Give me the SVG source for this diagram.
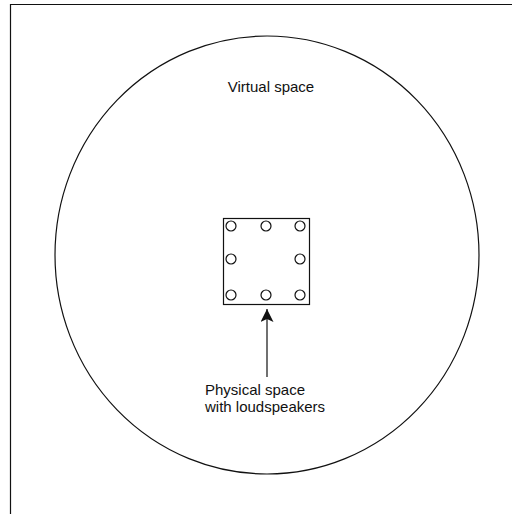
<svg xmlns="http://www.w3.org/2000/svg" width="512" height="516" viewBox="0 0 512 516">
  <style>
    .ln { fill: none; stroke: #111; stroke-width: 1.2; }
    .spk { fill: #fff; stroke: #111; stroke-width: 1.2; }
    .lbl { font-family: "Liberation Sans", Arial, sans-serif; font-size: 15px; fill: #111; }
  </style>
  <defs>
    <marker id="ah" markerWidth="14" markerHeight="18" refX="13" refY="6.5" orient="auto" markerUnits="userSpaceOnUse">
      <path d="M0,0 L13,6.5 L0,13 L3,6.5 Z" fill="#111"/>
    </marker>
  </defs>
  <rect width="512" height="516" fill="#fff"/>
  <path class="ln" d="M10.5,514 L10.5,4.5 L512,4.5"/>
  <g id="virtual-space">
    <ellipse class="ln" cx="267" cy="255" rx="212" ry="219"/>
    <text class="lbl" x="271" y="92" text-anchor="middle">Virtual space</text>
  </g>
  <g id="physical-space">
    <rect class="ln" x="223.5" y="218.5" width="86" height="86"/>
    <circle class="spk" cx="231" cy="226" r="5"/>
    <circle class="spk" cx="266" cy="226" r="5"/>
    <circle class="spk" cx="300" cy="226" r="5"/>
    <circle class="spk" cx="231" cy="259" r="5"/>
    <circle class="spk" cx="300" cy="259" r="5"/>
    <circle class="spk" cx="231" cy="295" r="5"/>
    <circle class="spk" cx="266" cy="295" r="5"/>
    <circle class="spk" cx="300" cy="295" r="5"/>
  </g>
  <g id="connectors">
    <line class="ln" x1="267" y1="377" x2="267" y2="309" marker-end="url(#ah)"/>
  </g>
  <g id="label-physical">
    <text class="lbl" x="205" y="395">Physical space</text>
    <text class="lbl" x="205" y="412">with loudspeakers</text>
  </g>
</svg>
